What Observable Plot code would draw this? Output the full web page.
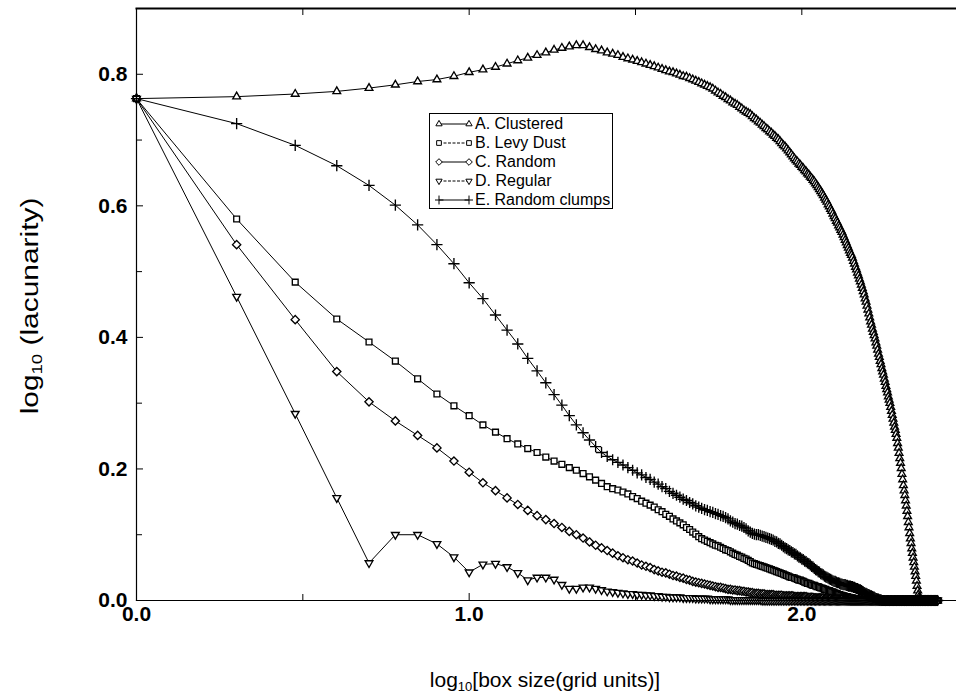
<!DOCTYPE html>
<html><head><meta charset="utf-8">
<script src="https://cdn.jsdelivr.net/npm/d3@7"></script>
<script src="https://cdn.jsdelivr.net/npm/@observablehq/plot@0.6"></script>
<style>
body{margin:0;background:#fff;}
#wrap{position:relative;width:956px;height:698px;font-family:"Liberation Sans",Arial,Helvetica,sans-serif;color:#000;}
#ylab{position:absolute;left:30px;top:306px;transform:translate(-50%,-50%) rotate(-90deg) scaleX(1.3);font-size:23px;white-space:nowrap;}
#xlab{position:absolute;left:545px;top:668px;transform:translateX(-50%);font-size:21px;white-space:nowrap;}
sub{font-size:0.62em;vertical-align:-0.3em;line-height:0;}
#legend{position:absolute;left:429px;top:113px;width:184px;height:96px;border:1px solid #000;background:#fff;box-sizing:border-box;padding-top:1px;}
.row{display:flex;align-items:center;height:18.8px;font-size:16px;}
.row svg{margin-left:5px;margin-right:2px;}
</style></head><body>
<div id="wrap">
  <div id="chart"></div>
  <div id="ylab">log<sub>10</sub> (lacunarity)</div>
  <div id="xlab">log<sub>10</sub>[box size(grid units)]</div>
  <div id="legend"></div>
</div>
<script>
// box sizes (grid units), 1..256
const boxSizes = [
  1,2,3,4,5,6,7,8,9,10,
  11,12,13,14,15,16,17,18,19,20,
  21,22,23,24,25,26,27,28,29,30,
  31,32,33,34,35,36,37,38,39,40,
  41,42,43,44,45,46,47,48,49,50,
  51,52,53,54,55,56,57,58,59,60,
  61,62,63,64,65,66,67,68,69,70,
  71,72,73,74,75,76,77,78,79,80,
  81,82,83,84,85,86,87,88,89,90,
  91,92,93,94,95,96,97,98,99,100,
  101,102,103,104,105,106,107,108,109,110,
  111,112,113,114,115,116,117,118,119,120,
  121,122,123,124,125,126,127,128,129,130,
  131,132,133,134,135,136,137,138,139,140,
  141,142,143,144,145,146,147,148,149,150,
  151,152,153,154,155,156,157,158,159,160,
  161,162,163,164,165,166,167,168,169,170,
  171,172,173,174,175,176,177,178,179,180,
  181,182,183,184,185,186,187,188,189,190,
  191,192,193,194,195,196,197,198,199,200,
  201,202,203,204,205,206,207,208,209,210,
  211,212,213,214,215,216,217,218,219,220,
  221,222,223,224,225,226,227,228,229,230,
  231,232,233,234,235,236,237,238,239,240,
  241,242,243,244,245,246,247,248,249,250,
  251,252,253,254,255,256];

// log10(lacunarity) for each series, aligned with boxSizes
const clustered = [
  .763,.766,.770,.774,.779,.784,.789,.792,.797,.803,
  .807,.811,.816,.821,.825,.829,.833,.837,.840,.842,
  .844,.844,.841,.838,.836,.833,.831,.829,.826,.824,
  .822,.820,.818,.816,.814,.812,.810,.808,.806,.804,
  .803,.801,.799,.797,.796,.794,.792,.790,.788,.786,
  .784,.782,.780,.778,.775,.772,.770,.767,.765,.762,
  .760,.757,.755,.753,.750,.748,.745,.743,.741,.739,
  .736,.733,.731,.728,.726,.723,.721,.718,.716,.713,
  .711,.708,.706,.703,.701,.698,.695,.692,.690,.687,
  .684,.681,.678,.675,.672,.669,.667,.664,.662,.659,
  .657,.654,.652,.649,.647,.644,.642,.639,.637,.634,
  .631,.628,.625,.622,.619,.616,.612,.609,.606,.602,
  .599,.595,.592,.588,.584,.581,.577,.574,.570,.567,
  .563,.560,.556,.552,.548,.544,.540,.536,.532,.528,
  .525,.521,.516,.512,.507,.503,.498,.494,.489,.485,
  .480,.475,.470,.465,.459,.454,.448,.442,.436,.430,
  .424,.419,.413,.408,.403,.398,.392,.387,.381,.375,
  .370,.364,.359,.353,.348,.343,.337,.332,.326,.321,
  .316,.310,.305,.300,.294,.288,.282,.276,.270,.264,
  .259,.253,.247,.239,.232,.224,.216,.209,.201,.192,
  .184,.175,.167,.160,.152,.144,.136,.128,.119,.111,
  .102,.094,.087,.079,.072,.065,.058,.051,.044,.037,
  .030,.022,.015,.009,.005,.003,.002,.001,0,0,
  0,0,0,0,0,0,0,0,0,0,
  0,0,0,0,0,0,0,0,0,0,
  0,0,0,0,0,0];

const levyDust = [
  .763,.580,.484,.428,.393,.364,.337,.314,.296,.281,
  .267,.256,.246,.238,.231,.225,.218,.212,.207,.202,
  .198,.193,.188,.183,.178,.173,.170,.168,.165,.162,
  .158,.155,.151,.148,.145,.142,.138,.135,.131,.128,
  .124,.121,.118,.115,.111,.108,.104,.101,.097,.094,
  .092,.090,.088,.086,.084,.083,.081,.079,.077,.076,
  .074,.072,.070,.069,.067,.066,.064,.063,.061,.059,
  .057,.056,.055,.054,.053,.052,.051,.050,.049,.048,
  .047,.046,.045,.044,.043,.042,.041,.040,.039,.038,
  .037,.036,.035,.035,.034,.033,.032,.031,.031,.030,
  .029,.028,.027,.026,.026,.025,.024,.023,.023,.022,
  .021,.021,.020,.019,.019,.018,.017,.017,.016,.015,
  .015,.014,.013,.013,.012,.011,.011,.010,.009,.009,
  .008,.008,.007,.007,.006,.006,.006,.005,.005,.004,
  .004,.004,.003,.003,.003,.002,.002,.002,.002,.001,
  .001,.001,.001,.001,.001,0,0,0,0,0,
  0,0,0,0,0,0,0,0,0,0,
  0,0,0,0,0,0,0,0,0,0,
  0,0,0,0,0,0,0,0,0,0,
  0,0,0,0,0,0,0,0,0,0,
  0,0,0,0,0,0,0,0,0,0,
  0,0,0,0,0,0,0,0,0,0,
  0,0,0,0,0,0,0,0,0,0,
  0,0,0,0,0,0,0,0,0,0,
  0,0,0,0,0,0,0,0,0,0,
  0,0,0,0,0,0];

const random = [
  .763,.541,.427,.348,.302,.273,.251,.232,.212,.195,
  .179,.167,.156,.146,.137,.129,.123,.117,.111,.105,
  .100,.095,.089,.084,.080,.076,.072,.068,.065,.062,
  .060,.057,.054,.052,.050,.047,.045,.043,.042,.040,
  .038,.037,.035,.034,.032,.031,.029,.028,.027,.026,
  .025,.024,.023,.022,.021,.020,.020,.019,.018,.017,
  .017,.016,.016,.015,.015,.014,.014,.013,.013,.012,
  .012,.011,.011,.011,.010,.010,.010,.009,.009,.009,
  .009,.009,.008,.008,.008,.008,.008,.007,.007,.007,
  .007,.007,.007,.007,.006,.006,.006,.006,.006,.006,
  .006,.006,.006,.005,.005,.005,.005,.005,.004,.004,
  .004,.004,.004,.004,.004,.004,.003,.003,.003,.003,
  .003,.003,.002,.002,.002,.002,.002,.002,.002,.002,
  .002,.002,.001,.001,.001,.001,.001,.001,.001,0,
  0,0,0,0,0,0,0,0,0,0,
  0,0,0,0,0,0,0,0,0,0,
  0,0,0,0,0,0,0,0,0,0,
  0,0,0,0,0,0,0,0,0,0,
  0,0,0,0,0,0,0,0,0,0,
  0,0,0,0,0,0,0,0,0,0,
  0,0,0,0,0,0,0,0,0,0,
  0,0,0,0,0,0,0,0,0,0,
  0,0,0,0,0,0,0,0,0,0,
  0,0,0,0,0,0,0,0,0,0,
  0,0,0,0,0,0,0,0,0,0,
  0,0,0,0,0,0];

const regular = [
  .763,.462,.284,.156,.057,.100,.100,.086,.066,.043,
  .055,.056,.051,.042,.031,.035,.035,.032,.024,.018,
  .018,.020,.020,.018,.016,.014,.013,.012,.011,.010,
  .010,.009,.009,.008,.008,.007,.007,.006,.006,.005,
  .005,.005,.005,.004,.004,.004,.004,.003,.003,.003,
  .003,.003,.002,.002,.002,.002,.002,.002,.002,.002,
  .001,.001,.001,.001,.001,.001,.001,.001,.001,.001,
  .001,.001,.001,.001,.001,0,0,0,0,0,
  0,0,0,0,0,0,0,0,0,0,
  0,0,0,0,0,0,0,0,0,0,
  0,0,0,0,0,0,0,0,0,0,
  0,0,0,0,0,0,0,0,0,0,
  0,0,0,0,0,0,0,0,0,0,
  0,0,0,0,0,0,0,0,0,0,
  0,0,0,0,0,0,0,0,0,0,
  0,0,0,0,0,0,0,0,0,0,
  0,0,0,0,0,0,0,0,0,0,
  0,0,0,0,0,0,0,0,0,0,
  0,0,0,0,0,0,0,0,0,0,
  0,0,0,0,0,0,0,0,0,0,
  0,0,0,0,0,0,0,0,0,0,
  0,0,0,0,0,0,0,0,0,0,
  0,0,0,0,0,0,0,0,0,0,
  0,0,0,0,0,0,0,0,0,0,
  0,0,0,0,0,0,0,0,0,0,
  0,0,0,0,0,0];

const randomClumps = [
  .763,.725,.692,.661,.631,.601,.571,.541,.512,.483,
  .459,.434,.411,.390,.368,.349,.331,.313,.297,.281,
  .267,.255,.244,.234,.225,.219,.214,.210,.206,.202,
  .198,.194,.191,.187,.184,.180,.177,.173,.170,.166,
  .163,.160,.157,.154,.152,.149,.147,.144,.142,.140,
  .138,.137,.135,.134,.132,.131,.129,.128,.126,.124,
  .121,.119,.117,.116,.114,.113,.111,.109,.106,.104,
  .102,.101,.100,.100,.099,.098,.097,.096,.095,.094,
  .093,.092,.090,.089,.087,.086,.084,.082,.080,.079,
  .077,.076,.074,.073,.071,.070,.068,.066,.065,.063,
  .062,.060,.059,.057,.056,.054,.052,.051,.049,.047,
  .046,.044,.043,.041,.040,.039,.037,.036,.035,.034,
  .033,.032,.031,.030,.029,.029,.028,.027,.027,.026,
  .025,.025,.024,.024,.024,.023,.023,.022,.022,.022,
  .021,.021,.020,.020,.019,.018,.018,.017,.016,.016,
  .015,.014,.013,.012,.011,.011,.010,.009,.009,.008,
  .007,.007,.006,.005,.005,.004,.003,.003,.002,.002,
  .001,.001,.001,0,0,0,0,0,0,0,
  0,0,0,0,0,0,0,0,0,0,
  0,0,0,0,0,0,0,0,0,0,
  0,0,0,0,0,0,0,0,0,0,
  0,0,0,0,0,0,0,0,0,0,
  0,0,0,0,0,0,0,0,0,0,
  0,0,0,0,0,0,0,0,0,0,
  0,0,0,0,0,0,0,0,0,0,
  0,0,0,0,0,0];

const seriesNames = ["A. Clustered","B. Levy Dust","C. Random","D. Regular","E. Random clumps"];
const seriesValues = [clustered, levyDust, random, regular, randomClumps];
const seriesSymbols = ["triangle2","square2","diamond2","triangle2","plus"];
const seriesRotate = [0,0,0,180,0];
const legendDashed = [false,true,false,true,false];
const xMajorTicks = [0,1,2];
const xMinorTicks = [0.5,1.5];
const yMajorTicks = [0,0.2,0.4,0.6,0.8];
const yMinorTicks = [0.1,0.3,0.5,0.7];

const data = seriesNames.flatMap((name, k) =>
  boxSizes.map((b, i) => ({series: name, x: Math.log10(b), y: seriesValues[k][i]})));

const fmt = d3.format(".1f");
const dotMarks = seriesNames.map((name, k) =>
  Plot.dot(data.filter(d => d.series === name), {
    x: "x", y: "y", symbol: seriesSymbols[k], r: 3.7, rotate: seriesRotate[k],
    stroke: "#000", fill: "#fff", strokeWidth: 1.35
  }));

const chart = Plot.plot({
  width: 956, height: 698,
  marginLeft: 136, marginRight: 0, marginTop: 8, marginBottom: 98,
  x: {domain: [0, 2.465]},
  y: {domain: [0, 0.9]},
  style: {fontFamily: "'Liberation Sans', Arial, sans-serif", fontSize: "20px", color: "#000", background: "#fff"},
  marks: [
    Plot.axisX({ticks: xMajorTicks, tickSize: -7, tickPadding: 13, tickFormat: fmt, label: null, fontSize: 21, fontWeight: "bold"}),
    Plot.axisX({ticks: xMinorTicks, tickSize: -6, tickFormat: () => "", label: null}),
    Plot.axisX({anchor: "top", ticks: xMajorTicks.concat(xMinorTicks), tickSize: -6, tickFormat: () => "", label: null}),
    Plot.axisY({ticks: yMajorTicks, tickSize: -7, tickPadding: 16, tickFormat: fmt, label: null, fontSize: 21, fontWeight: "bold"}),
    Plot.axisY({ticks: yMinorTicks, tickSize: -6, tickFormat: () => "", label: null}),
    Plot.line(data, {x: "x", y: "y", z: "series", stroke: "#000", strokeWidth: 1}),
    ...dotMarks,
    Plot.frame({anchor: "left", strokeWidth: 1.2}),
    Plot.frame({anchor: "top", strokeWidth: 2}),
    Plot.frame({anchor: "bottom", strokeWidth: 1.2})
  ]
});
document.getElementById("chart").append(chart);

// legend
const symMap = {triangle2: d3.symbolTriangle2, square2: d3.symbolSquare2, diamond2: d3.symbolDiamond2, plus: d3.symbolPlus};
const legend = d3.select("#legend");
seriesNames.forEach((name, k) => {
  const row = legend.append("div").attr("class", "row");
  const svg = row.append("svg").attr("width", 38).attr("height", 14);
  svg.append("line").attr("x1", 4).attr("x2", 34).attr("y1", 7).attr("y2", 7)
    .attr("stroke", "#000").attr("stroke-width", 1)
    .attr("stroke-dasharray", legendDashed[k] ? "3,1.5" : null);
  const path = d3.symbol().type(symMap[seriesSymbols[k]]).size(28)();
  [4, 34].forEach(cx => svg.append("path").attr("d", path)
    .attr("transform", `translate(${cx},7) rotate(${seriesRotate[k]})`)
    .attr("fill", "#fff").attr("stroke", "#000").attr("stroke-width", 1));
  row.append("span").text(name);
});
</script>
</body></html>
